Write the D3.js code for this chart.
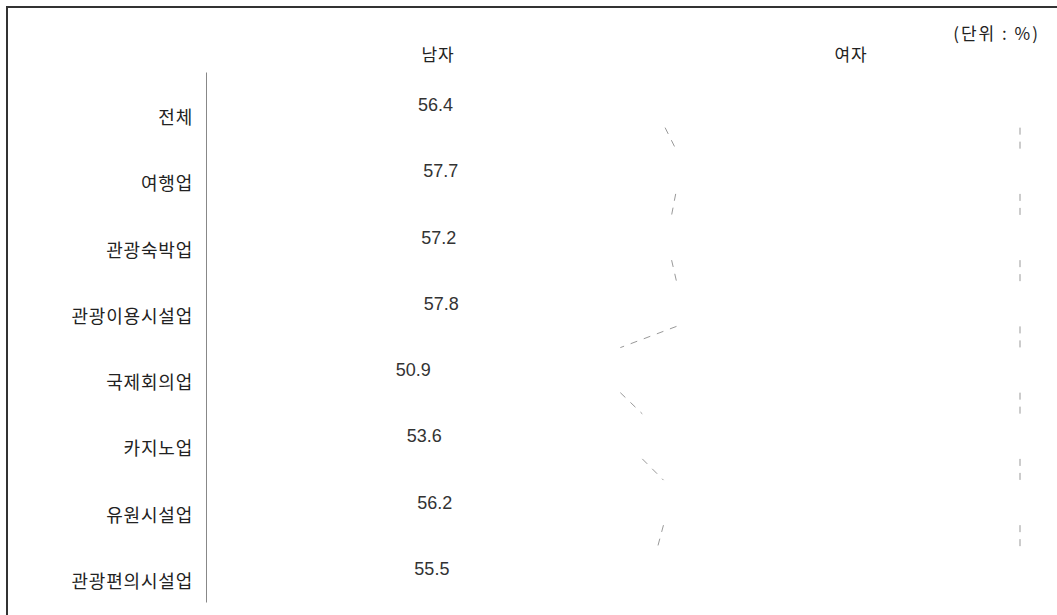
<!DOCTYPE html>
<html><head><meta charset="utf-8">
<script src="https://cdn.jsdelivr.net/npm/d3@7/dist/d3.min.js"></script>
<style>
body{margin:0;background:#fff;}
svg{display:block;}
</style></head>
<body>
<svg id="chart" width="1057" height="615"></svg>
<script>
const categories = ["전체","여행업","관광숙박업","관광이용시설업","국제회의업","카지노업","유원시설업","관광편의시설업"];
const maleValues = [56.4, 57.7, 57.2, 57.8, 50.9, 53.6, 56.2, 55.5];
const femaleValues = [43.6, 42.3, 42.8, 42.2, 49.1, 46.4, 43.8, 44.5];
const seriesNames = ["남자","여자"];
const unitLabel = "(단위 : %)";

const svg = d3.select("#chart");
const korFont = "'Noto Sans CJK KR','Noto Sans',sans-serif";
const numFont = "'Liberation Sans',Arial,sans-serif";

// frame (top and left edges visible)
svg.append("line").attr("x1",7).attr("y1",7).attr("x2",1057).attr("y2",7).attr("stroke","#333").attr("stroke-width",2);
svg.append("line").attr("x1",7).attr("y1",6).attr("x2",7).attr("y2",615).attr("stroke","#333").attr("stroke-width",2);

const x = d3.scaleLinear().domain([0,100]).range([206,1020]);
const y = d3.scaleBand().domain(categories).range([72,602]).paddingInner(0.32).paddingOuter(0.16);
const bw = y.bandwidth();

const data = categories.map((c,i)=>({cat:c, m:maleValues[i], f:femaleValues[i]}));

// bars (white, invisible as in reference)
const g = svg.append("g");
g.selectAll("rect.m").data(data).join("rect").attr("class","m")
  .attr("x",x(0)).attr("y",d=>y(d.cat)).attr("width",d=>x(d.m)-x(0)).attr("height",bw).attr("fill","#fff");
g.selectAll("rect.f").data(data).join("rect").attr("class","f")
  .attr("x",d=>x(d.m)).attr("y",d=>y(d.cat)).attr("width",d=>x(d.m+d.f)-x(d.m)).attr("height",bw).attr("fill","#fff");

// series lines
const pairs = d3.pairs(data);
g.selectAll("line.sm").data(pairs).join("line").attr("class","sm")
  .attr("x1",p=>x(p[0].m)).attr("y1",p=>y(p[0].cat)+bw)
  .attr("x2",p=>x(p[1].m)).attr("y2",p=>y(p[1].cat))
  .attr("stroke","#999").attr("stroke-width",1).attr("stroke-dasharray","7,7");
g.selectAll("line.sf").data(pairs).join("line").attr("class","sf")
  .attr("x1",p=>x(p[0].m+p[0].f)).attr("y1",p=>y(p[0].cat)+bw)
  .attr("x2",p=>x(p[1].m+p[1].f)).attr("y2",p=>y(p[1].cat))
  .attr("stroke","#999").attr("stroke-width",1).attr("stroke-dasharray","7,7");

// axis line
const yAxis = d3.axisLeft(y).tickSize(0).tickFormat("");
const ax = svg.append("g").attr("transform",`translate(${x(0)},0)`).call(yAxis);
ax.select(".domain").attr("stroke","#888").attr("stroke-width",1);

// category labels
svg.append("g").selectAll("text").data(categories).join("text")
  .attr("x",193).attr("y",c=>y(c)+bw/2+11)
  .attr("text-anchor","end").attr("dominant-baseline","central")
  .attr("font-family",korFont).attr("font-size",18).attr("letter-spacing","0.8px").attr("fill","#222")
  .text(c=>c);

// value labels (male)
svg.append("g").selectAll("text").data(data).join("text")
  .attr("x",d=>x(d.m/2)).attr("y",d=>y(d.cat)+bw/2)
  .attr("text-anchor","middle").attr("dominant-baseline","central")
  .attr("font-family",numFont).attr("font-size",18).attr("fill","#333")
  .text(d=>d.m.toFixed(1));

// series headers
const headerX = [438, 851];
svg.append("g").selectAll("text").data(seriesNames).join("text")
  .attr("x",(d,i)=>headerX[i]).attr("y",53)
  .attr("text-anchor","middle").attr("dominant-baseline","central")
  .attr("font-family",korFont).attr("font-size",17).attr("letter-spacing","0.8px").attr("fill","#222")
  .text(d=>d);

// unit label
svg.append("text").attr("x",1040).attr("y",32)
  .attr("text-anchor","end").attr("dominant-baseline","central")
  .attr("font-family",korFont).attr("font-size",17).attr("letter-spacing","2px").attr("fill","#222")
  .attr("xml:space","preserve")
  .text(unitLabel);
</script>
</body></html>
